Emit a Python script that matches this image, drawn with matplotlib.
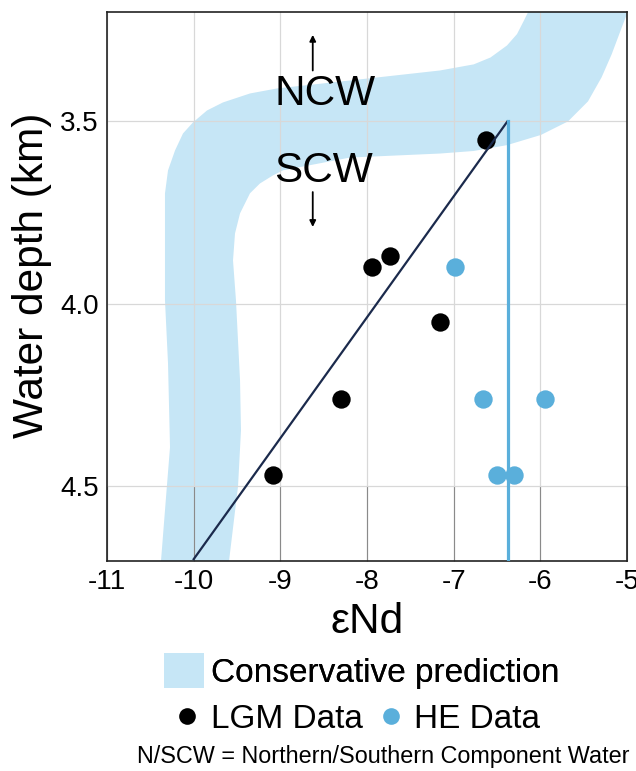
import numpy as np
import matplotlib
matplotlib.use('Agg')
import matplotlib.pyplot as plt
from matplotlib.patches import Patch
from matplotlib.lines import Line2D

plt.rcParams['font.family'] = ['Liberation Sans', 'DejaVu Sans']

# 守恒混合预测带 (左/上边界, 右/下边界), 自上而下
band_left_x = [-6.10, -6.142, -6.189, -6.269, -6.385, -6.575, -6.769, -7.158, -8.196, -9.039,
               -9.350, -9.662, -9.846, -10.008, -10.123, -10.215, -10.296, -10.331, -10.331,
               -10.331, -10.296, -10.273, -10.319, -10.377, -10.38]
band_left_y = [3.17, 3.2005, 3.2233, 3.2605, 3.2918, 3.3247, 3.3436, 3.3603, 3.3877, 3.4096,
               3.4233, 3.4479, 3.4699, 3.5027, 3.5329, 3.5795, 3.6342, 3.6973, 3.8808,
               3.99, 4.163, 4.393, 4.53, 4.705, 4.72]
band_right_x = [-4.99, -5.0, -5.06, -5.177, -5.293, -5.45, -5.681, -5.993, -6.385, -6.769,
                -7.158, -8.196, -8.969, -9.085, -9.235, -9.350, -9.465, -9.523, -9.546,
                -9.512, -9.465, -9.454, -9.488, -9.592, -9.60]
band_right_y = [3.17, 3.205, 3.242, 3.316, 3.379, 3.445, 3.50, 3.537, 3.565, 3.581,
                3.588, 3.599, 3.634, 3.648, 3.670, 3.697, 3.752, 3.807, 3.881,
                3.99, 4.21, 4.347, 4.50, 4.705, 4.72]

# LGM 数据
lgm_end = [-6.63, -7.94, -7.73, -7.16, -8.30, -9.09]
lgm_depth = [3.55, 3.90, 3.87, 4.05, 4.26, 4.47]
# HE 数据
he_end = [-6.98, -6.66, -5.95, -6.50, -6.30]
he_depth = [3.90, 4.26, 4.26, 4.47, 4.47]

# 拟合线与 HE 垂线
fit_x = [-10.0, -6.38]
fit_y = [4.70, 3.50]
he_x = -6.37
he_top, he_bottom = 3.50, 4.70

xticks = [-11, -10, -9, -8, -7, -6, -5]
yticks = [3.5, 4.0, 4.5]

band_col = '#c6e6f6'
he_col = '#5aafdb'
navy = '#1b2a4c'

fig = plt.figure(figsize=(6.36, 7.71), dpi=100)
ax = fig.add_axes([107 / 636, 1 - 561 / 771, 520 / 636, 549 / 771])

poly_x = band_left_x + band_right_x[::-1]
poly_y = band_left_y + band_right_y[::-1]
ax.fill(poly_x, poly_y, color=band_col, lw=0, zorder=0.3)

ax.scatter(lgm_end, lgm_depth, s=175, color='black', lw=0, zorder=3)
ax.scatter(he_end, he_depth, s=175, color=he_col, lw=0, zorder=3)
ax.plot(fit_x, fit_y, color=navy, lw=1.6, zorder=4)
ax.plot([he_x, he_x], [he_top, he_bottom], color=he_col, lw=2.3, zorder=4)

# NCW / SCW 标注
ax.text(-8.48, 3.425, 'NCW', fontsize=30.5, ha='center', va='center')
ax.text(-8.50, 3.635, 'SCW', fontsize=30.5, ha='center', va='center')
ax.annotate('', xy=(-8.626, 3.255), xytext=(-8.626, 3.368),
            arrowprops=dict(arrowstyle='-|>', color='black', lw=1.3, mutation_scale=9))
ax.annotate('', xy=(-8.626, 3.797), xytext=(-8.626, 3.686),
            arrowprops=dict(arrowstyle='-|>', color='black', lw=1.3, mutation_scale=9))

ax.set_xlim(-11, -5)
ax.set_ylim(4.705, 3.2)
ax.set_xticks(xticks)
ax.set_xticklabels([str(t) for t in xticks])
ax.set_yticks(yticks)
ax.set_yticklabels(['%.1f' % t for t in yticks])
ax.grid(True, color='#d8d8d8', lw=0.9)
ax.set_axisbelow(True)
ax.tick_params(axis='x', direction='in', length=54, width=0.8, color='#8a8a8a',
               labelsize=20, pad=6)
ax.tick_params(axis='y', length=0, labelsize=20, pad=6)
for sp in ax.spines.values():
    sp.set_color('#222222')
    sp.set_linewidth(1.2)

ax.set_xlabel('εNd', fontsize=30.5)
ax.xaxis.set_label_coords(0.5, -0.075)
ax.set_ylabel('Water depth (km)', fontsize=30.5)
ax.yaxis.set_label_coords(-0.105, 0.52)

# 图例
leg1 = fig.legend(handles=[Patch(color=band_col, lw=0)], labels=['Conservative prediction'],
                  loc='center', bbox_to_anchor=(362 / 636, 1 - 671 / 771), frameon=False,
                  fontsize=24, handlelength=1.2, handleheight=1.2, handletextpad=0.2,
                  borderpad=0, borderaxespad=0)
fig.add_artist(leg1)
fig.legend(handles=[Line2D([], [], ls='', marker='o', ms=12, color='black', mew=0),
                    Line2D([], [], ls='', marker='o', ms=12, color=he_col, mew=0)],
           labels=['LGM Data', 'HE Data'], ncol=2, loc='center',
           bbox_to_anchor=(357 / 636, 1 - 719 / 771), frameon=False, fontsize=24,
           handlelength=0.8, handletextpad=0.3, columnspacing=0.45, borderpad=0,
           borderaxespad=0)

fig.text(383 / 636, 1 - 756 / 771, 'N/SCW = Northern/Southern Component Water',
         fontsize=16.8, ha='center', va='center')

fig.savefig('out.png', dpi=100)
